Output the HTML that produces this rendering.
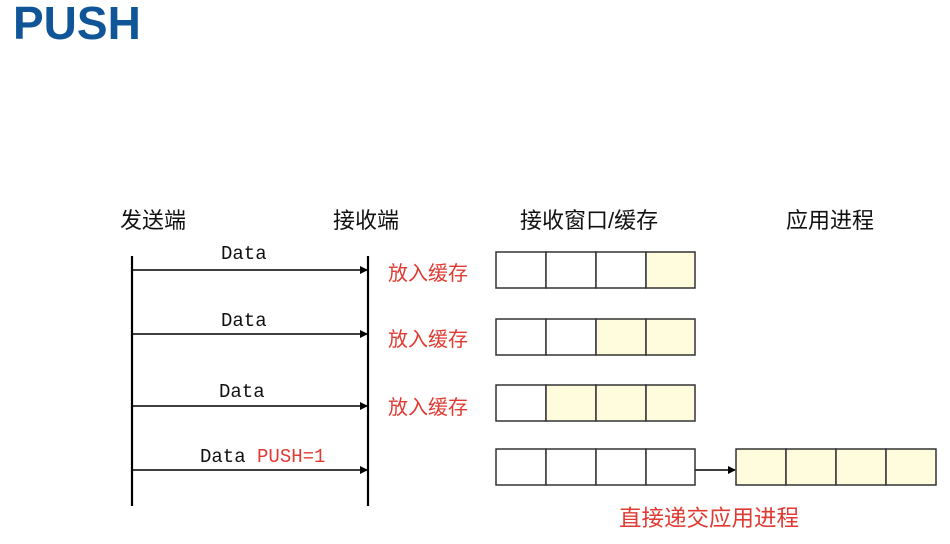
<!DOCTYPE html>
<html><head><meta charset="utf-8"><style>
body{margin:0;width:950px;height:544px;background:#fff;position:relative;overflow:hidden;font-family:"Liberation Sans","Noto Sans CJK SC",sans-serif}
.t{position:absolute;white-space:nowrap}
.h{font-size:22px;color:#111;top:203px}
.d{font-family:"Liberation Mono","Noto Sans CJK SC",monospace;font-size:19px;color:#111}
.r{color:#e03a32;font-size:20px}
</style></head><body>
<div class="t" style="left:13px;top:-4px;font-size:46px;font-weight:bold;color:#0f5597">PUSH</div>
<div class="t h" style="left:120px">发送端</div>
<div class="t h" style="left:333px">接收端</div>
<div class="t h" style="left:520px">接收窗口/缓存</div>
<div class="t h" style="left:786px">应用进程</div>
<div class="t d" style="left:221px;top:243px">Data</div>
<div class="t d" style="left:221px;top:310px">Data</div>
<div class="t d" style="left:219px;top:381px">Data</div>
<div class="t d" style="left:200px;top:446px">Data <span style="color:#e03a32">PUSH=1</span></div>
<div class="t r" style="left:388px;top:257px">放入缓存</div>
<div class="t r" style="left:388px;top:323px">放入缓存</div>
<div class="t r" style="left:388px;top:391px">放入缓存</div>
<div class="t r" style="left:619px;top:501px;font-size:22.5px">直接递交应用进程</div>
<svg width="950" height="544" style="position:absolute;left:0;top:0">
<defs><marker id="a" markerWidth="8" markerHeight="8" refX="7" refY="4" orient="auto" markerUnits="userSpaceOnUse"><path d="M0,0L8,4L0,8z" fill="#000"/></marker></defs>
<g stroke="#000" stroke-width="2.2">
<line x1="132" y1="256" x2="132" y2="506"/><line x1="368" y1="256" x2="368" y2="506"/>
</g>
<g stroke="#000" stroke-width="1.6" marker-end="url(#a)">
<line x1="132" y1="270" x2="367" y2="270"/><line x1="132" y1="334" x2="367" y2="334"/>
<line x1="132" y1="406" x2="367" y2="406"/><line x1="132" y1="470" x2="367" y2="470"/>
<line x1="695" y1="470" x2="735" y2="470"/>
</g>
<g stroke="#333" stroke-width="1.5">
<rect x="496" y="252" width="50" height="36" fill="#fff"/><rect x="546" y="252" width="50" height="36" fill="#fff"/><rect x="596" y="252" width="50" height="36" fill="#fff"/><rect x="646" y="252" width="49" height="36" fill="#fefcdc"/>
<rect x="496" y="319" width="50" height="36" fill="#fff"/><rect x="546" y="319" width="50" height="36" fill="#fff"/><rect x="596" y="319" width="50" height="36" fill="#fefcdc"/><rect x="646" y="319" width="49" height="36" fill="#fefcdc"/>
<rect x="496" y="385" width="50" height="36" fill="#fff"/><rect x="546" y="385" width="50" height="36" fill="#fefcdc"/><rect x="596" y="385" width="50" height="36" fill="#fefcdc"/><rect x="646" y="385" width="49" height="36" fill="#fefcdc"/>
<rect x="496" y="449" width="50" height="36" fill="#fff"/><rect x="546" y="449" width="50" height="36" fill="#fff"/><rect x="596" y="449" width="50" height="36" fill="#fff"/><rect x="646" y="449" width="49" height="36" fill="#fff"/>
<rect x="736" y="449" width="50" height="36" fill="#fefcdc"/><rect x="786" y="449" width="50" height="36" fill="#fefcdc"/><rect x="836" y="449" width="50" height="36" fill="#fefcdc"/><rect x="886" y="449" width="50" height="36" fill="#fefcdc"/>
</g>
</svg>
</body></html>
